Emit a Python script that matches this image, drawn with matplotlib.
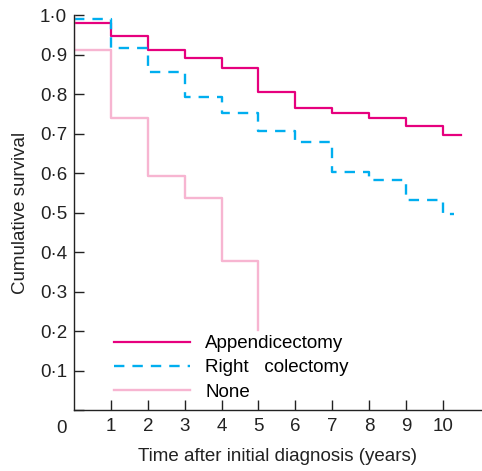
import matplotlib
matplotlib.use("Agg")
import matplotlib.pyplot as plt
import numpy as np

plt.rcParams["font.family"] = ["Liberation Sans", "DejaVu Sans"]

# survival curves: value held from each time point until the next one
appendix_times = [0, 1, 2, 3, 4, 5, 6, 7, 8, 9, 10]
appendix_surv = [0.98, 0.948, 0.911, 0.892, 0.867, 0.806, 0.764, 0.752, 0.739, 0.719, 0.696]
appendix_end = 10.5

colect_times = [0, 1, 2, 3, 4, 5, 6, 7, 8, 9, 10]
colect_surv = [0.99, 0.917, 0.856, 0.792, 0.751, 0.706, 0.679, 0.603, 0.582, 0.532, 0.496]
colect_end = 10.3

none_times = [0, 0, 1, 2, 3, 4, 5]
none_surv = [1.0, 0.911, 0.739, 0.593, 0.538, 0.378, 0.203]
none_end = 5

labels = ["Appendicectomy", "Right   colectomy", "None"]
yticks = [0.1, 0.2, 0.3, 0.4, 0.5, 0.6, 0.7, 0.8, 0.9, 1.0]
xticks = [1, 2, 3, 4, 5, 6, 7, 8, 9, 10]


def steps(times, surv, end):
    xs, ys = [], []
    for i, (t, s) in enumerate(zip(times, surv)):
        if i > 0:
            xs.append(t)
            ys.append(surv[i - 1])
        xs.append(t)
        ys.append(s)
    xs.append(end)
    ys.append(surv[-1])
    return xs, ys


fig = plt.figure(figsize=(4.82, 4.71), dpi=100)
ax = fig.add_axes([0.1535, 0.1295, 0.8465, 0.8385])

x, y = steps(appendix_times, appendix_surv, appendix_end)
ax.plot(x, y, color="#E6007E", lw=1.6, label=labels[0])
x, y = steps(colect_times, colect_surv, colect_end)
ax.plot(x, y, color="#00AEEF", lw=1.7, dashes=(4.4, 3.4), label=labels[1])
# the last step of "None" goes straight down at year 5
x, y = steps(none_times, none_surv, none_end)
ax.plot(x[:-1], y[:-1], color="#F7B5D1", lw=1.7, label=labels[2])

fs = 13.5
ax.set_xlim(0, 11.06)
ax.set_ylim(0, 1.0)
ax.set_xticks(xticks)
ax.set_xticklabels([str(t) for t in xticks])
ax.set_yticks([0] + yticks)
ax.set_yticklabels([""] + [f"{v:.1f}".replace(".", "\u00b7") for v in yticks])
ax.tick_params(direction="in", length=7, width=1, labelsize=fs, colors="#222222")
ax.tick_params(axis="x", pad=6)
ax.tick_params(axis="y", pad=5)
ax.text(-0.35, -0.025, "0", fontsize=fs, color="#222222", ha="center", va="top")

for side in ["top", "right"]:
    ax.spines[side].set_visible(False)
for side in ["left", "bottom"]:
    ax.spines[side].set_color("#222222")
    ax.spines[side].set_linewidth(1)

ax.set_xlabel("Time after initial diagnosis (years)", fontsize=fs, color="#222222", labelpad=9)
ax.set_ylabel("Cumulative survival", fontsize=fs, color="#222222", labelpad=8)

ax.legend(loc="upper left", bbox_to_anchor=(0.097, 0.19), frameon=False, fontsize=fs,
          handlelength=4.1, handletextpad=0.8, labelspacing=0.38, borderpad=0, borderaxespad=0)

fig.savefig("out.png", dpi=100)
